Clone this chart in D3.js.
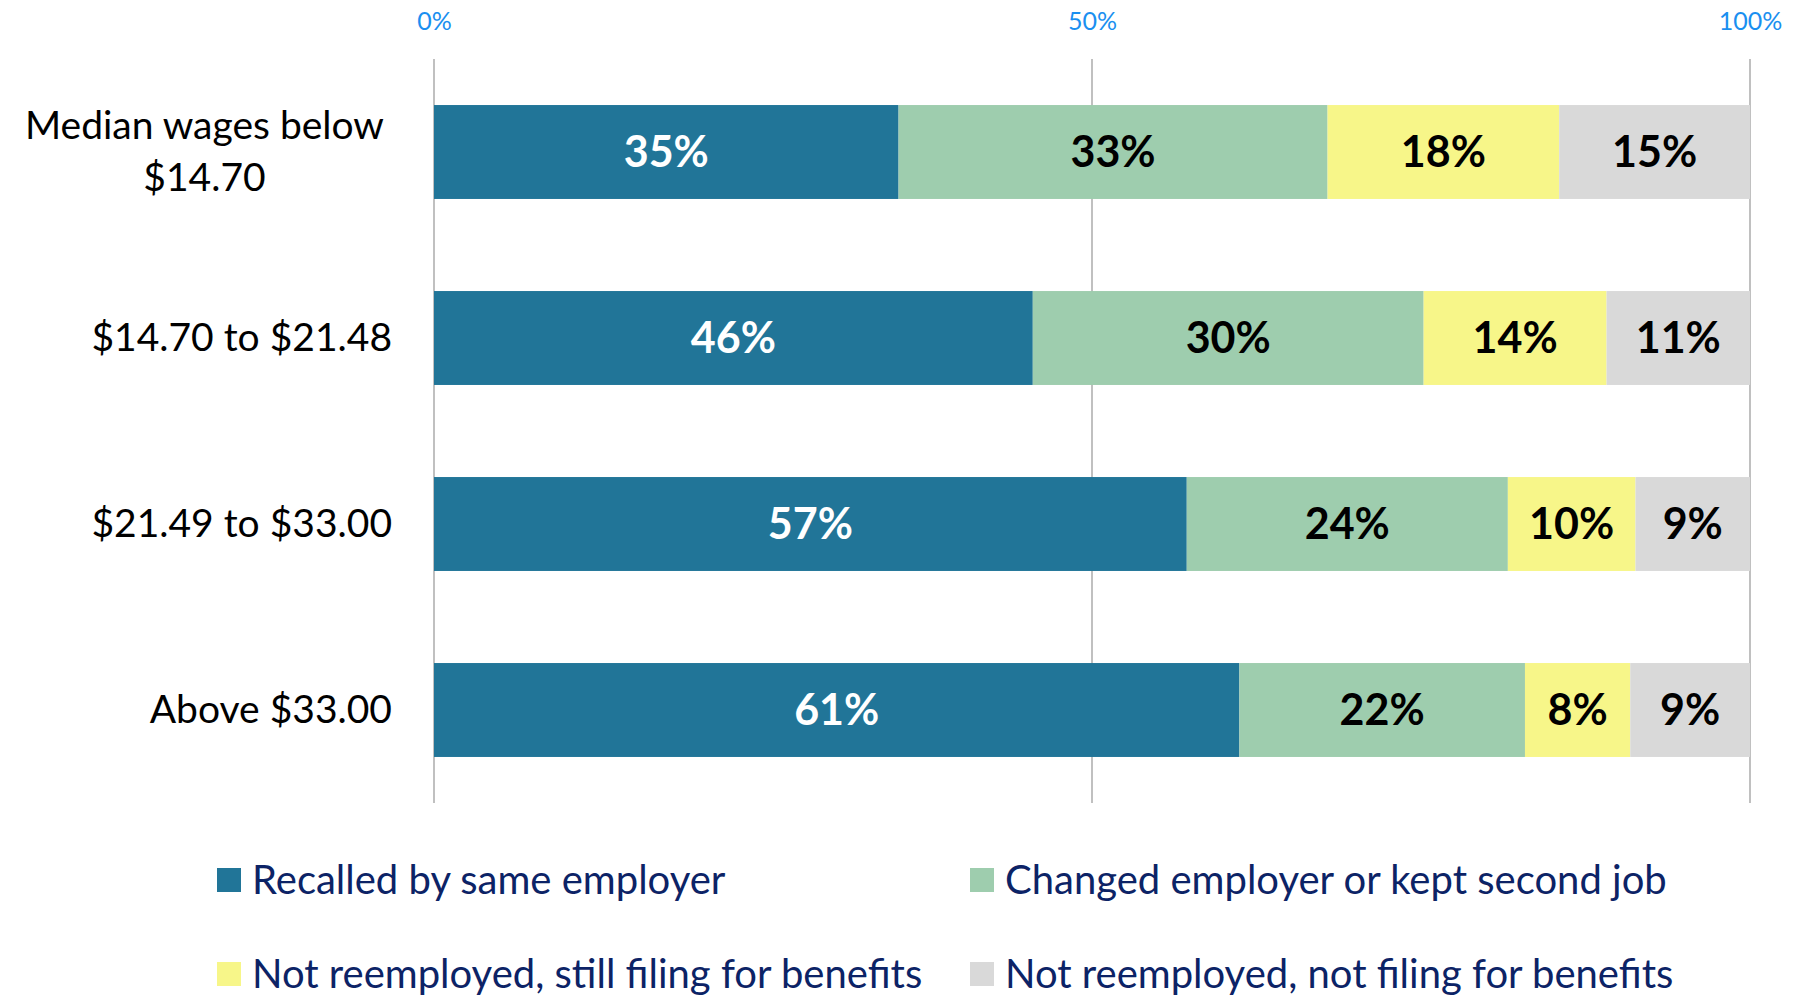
<!DOCTYPE html>
<html>
<head>
<meta charset="utf-8">
<script src="https://d3js.org/d3.v7.min.js"></script>
<style>
  body { margin: 0; background: #fff; }
  text { font-family: Lato, "Open Sans", sans-serif; }
</style>
</head>
<body>
<svg id="chart" width="1794" height="1002"></svg>
<script>
// categories (top to bottom)
const categories = ["Median wages below $14.70", "$14.70 to $21.48", "$21.49 to $33.00", "Above $33.00"];
const seriesNames = ["Recalled by same employer", "Changed employer or kept second job",
                     "Not reemployed, still filing for benefits", "Not reemployed, not filing for benefits"];
// shares in percent (labels are these rounded)
const recalled    = [35.3, 45.5, 57.2, 61.2];
const changed     = [32.6, 29.7, 24.4, 21.7];
const stillFiling = [17.6, 13.9, 9.7, 8.0];
const notFiling   = [14.5, 10.9, 8.7, 9.1];
const tickValues  = [0, 0.5, 1];
const colors = ["#217598", "#9ecdae", "#f7f689", "#d9d9d9"];
const labelColors = ["#ffffff", "#000000", "#000000", "#000000"];

const rows = categories.map((c, i) => ({
  cat: c, s0: recalled[i], s1: changed[i], s2: stillFiling[i], s3: notFiling[i]
}));
const keys = ["s0", "s1", "s2", "s3"];

const stack = d3.stack().keys(keys).offset(d3.stackOffsetExpand);
const layers = stack(rows);

const svg = d3.select("#chart");

const x = d3.scaleLinear().domain([0, 1]).range([434, 1750]);
const y = d3.scaleBand().domain(categories).range([59, 803]).paddingInner(0.495).paddingOuter(0.2475);

// gridlines
svg.append("g")
  .selectAll("line").data(tickValues).join("line")
  .attr("x1", d => x(d)).attr("x2", d => x(d))
  .attr("y1", 59).attr("y2", 803)
  .attr("stroke", "#c0c0c0").attr("stroke-width", 2);

// top axis labels
const xAxis = svg.append("g")
  .attr("transform", "translate(0,30)")
  .call(d3.axisTop(x).tickValues(tickValues).tickFormat(d3.format(".0%")).tickSize(0).tickPadding(0));
xAxis.select(".domain").remove();
xAxis.selectAll("text")
  .attr("font-size", 25).attr("fill", "#1a8ff0")
  .style("font-family", "Lato, sans-serif");

// bars
const layerG = svg.append("g").selectAll("g").data(layers).join("g")
  .attr("fill", (d, i) => colors[i]);

layerG.selectAll("rect").data(d => d).join("rect")
  .attr("x", d => x(d[0]))
  .attr("y", d => y(d.data.cat))
  .attr("width", d => x(d[1]) - x(d[0]))
  .attr("height", y.bandwidth());

// value labels
svg.append("g").selectAll("g").data(layers).join("g")
  .each(function(layer, li) {
    d3.select(this).selectAll("text").data(layer).join("text")
      .attr("x", d => (x(d[0]) + x(d[1])) / 2)
      .attr("y", d => y(d.data.cat) + y.bandwidth() / 2)
      .attr("dy", "0.36em")
      .attr("text-anchor", "middle")
      .attr("font-size", 43)
      .attr("font-weight", "bold")
      .attr("fill", labelColors[li])
      .text(d => Math.round(d.data[layer.key]) + "%");
  });

// category labels with wrapping
const labelRight = 392, maxW = 400, lineH = 52;
const catG = svg.append("g");
categories.forEach(c => {
  const cy = y(c) + y.bandwidth() / 2;
  const words = c.split(" ");
  const t = catG.append("text").attr("font-size", 39).attr("fill", "#000");
  let lines = [], cur = [];
  words.forEach(w => {
    const trial = cur.concat(w).join(" ");
    t.text(trial);
    if (t.node().getComputedTextLength() > maxW && cur.length) {
      lines.push(cur.join(" "));
      cur = [w];
    } else cur.push(w);
  });
  lines.push(cur.join(" "));
  t.text(null);
  let anchor = "end", ax = labelRight;
  if (lines.length > 1) {
    t.text(lines[0]);
    const w0 = t.node().getComputedTextLength();
    t.text(null);
    anchor = "middle"; ax = labelRight - 8 - w0 / 2;
  }
  t.attr("text-anchor", anchor);
  lines.forEach((ln, k) => {
    t.append("tspan")
      .attr("x", ax)
      .attr("y", cy + (k - (lines.length - 1) / 2) * lineH)
      .attr("dy", "0.34em")
      .text(ln);
  });
});

// legend
const legendPos = [[217, 880], [970, 880], [217, 974], [970, 974]];
const legend = svg.append("g").selectAll("g").data(seriesNames).join("g")
  .attr("transform", (d, i) => `translate(${legendPos[i][0]},${legendPos[i][1]})`);
legend.append("rect")
  .attr("x", 0).attr("y", -12).attr("width", 24).attr("height", 24)
  .attr("fill", (d, i) => colors[i]);
legend.append("text")
  .attr("x", 35).attr("dy", "0.35em")
  .attr("font-size", 40).attr("fill", "#0c2366")
  .text(d => d);
</script>
</body>
</html>
